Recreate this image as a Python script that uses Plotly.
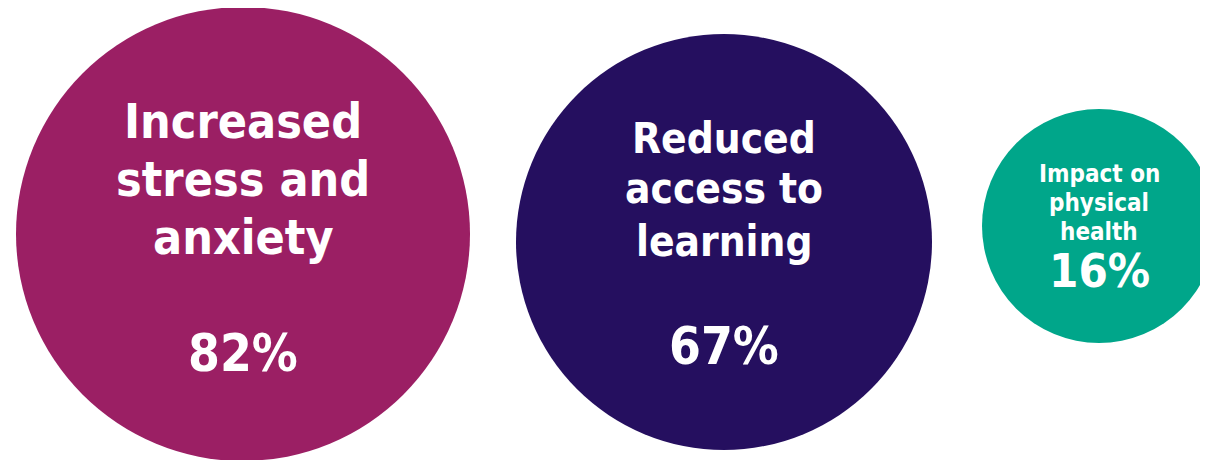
import plotly.graph_objects as go

# ---- data ----
categories = ["Increased<br>stress and<br>anxiety", "Reduced<br>access to<br>learning", "Impact on<br>physical<br>health"]
values = [82, 67, 16]

# ---- layout / style constants (pixel space of the page) ----
W, H = 1208, 460
BODY_MARGIN = 8  # default html body margin shifts the figure
centre_x = [243, 724, 1099]
centre_y = [234, 242, 226]
diameter = [454, 416, 234]
colours = ["#9B1F64", "#250F5F", "#00A68A"]
label_baselines = [[138, 196, 254], [153, 203, 256], [182, 211, 240]]
label_size = [48, 42, 24]
value_baseline = [371, 364, 287]
value_size = [51, 51, 47]
FONT = "DejaVu Sans Condensed, DejaVu Sans, Verdana, sans-serif"

fig = go.Figure()
fig.add_trace(go.Scatter(
    x=centre_x, y=centre_y, mode="markers",
    marker=dict(size=diameter, color=colours, line=dict(width=0), opacity=1),
    hoverinfo="skip", showlegend=False,
))

descenders = set("gjpqy")
for i, cat in enumerate(categories):
    for line, b in zip(cat.split("<br>"), label_baselines[i]):
        s = label_size[i]
        # tight box for lines without descenders so stacked boxes do not collide
        h = None if any(c in descenders for c in line) else round(0.8 * s + 6)
        fig.add_annotation(x=centre_x[i], y=b - 0.35 * s, text=f"<b>{line}</b>",
                           showarrow=False, xanchor="center", yanchor="middle",
                           height=h, valign="middle",
                           font=dict(family=FONT, size=s, color="white"))
    s = value_size[i]
    fig.add_annotation(x=centre_x[i], y=value_baseline[i] - 0.35 * s, text=f"<b>{values[i]}%</b>",
                       showarrow=False, xanchor="center", yanchor="middle",
                       height=round(0.78 * s + 6), valign="middle",
                       font=dict(family=FONT, size=s, color="white"))

fig.update_layout(
    width=W, height=H, margin=dict(l=0, r=0, t=0, b=0),
    paper_bgcolor="white", plot_bgcolor="white",
    xaxis=dict(range=[BODY_MARGIN, W + BODY_MARGIN], visible=False, fixedrange=True),
    yaxis=dict(range=[H + BODY_MARGIN, BODY_MARGIN], visible=False, fixedrange=True),
)

fig.write_html("out.html", config={"displayModeBar": False})
